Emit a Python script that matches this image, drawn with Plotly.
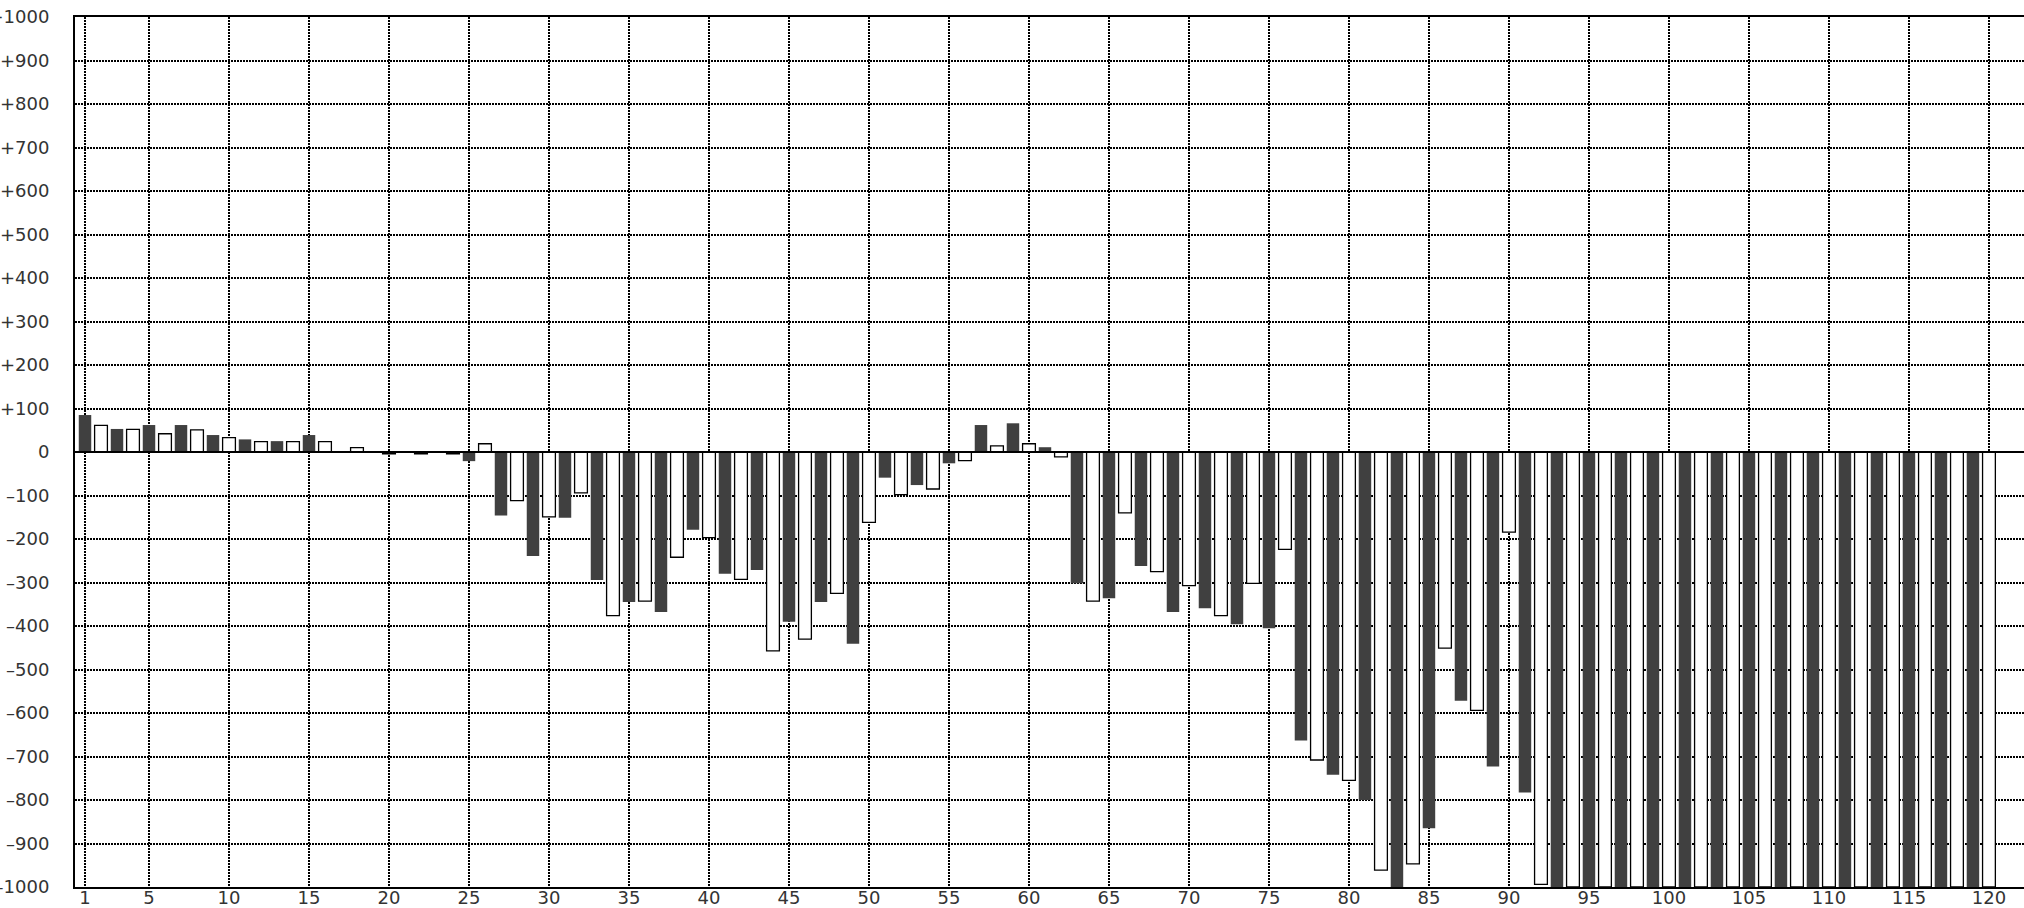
import plotly.graph_objects as go

# Bar index 1..120 and values
positions = list(range(1, 121))
values = [
    85, 61, 53, 52, 62, 42, 62, 51, 39, 33,
    29, 24, 25, 24, 39, 24, 0, 10, 0, -4,
    0, -4, -1, -4, -21, 19, -146, -112, -239, -149,
    -151, -94, -294, -376, -345, -343, -368, -242, -179, -197,
    -280, -293, -271, -457, -390, -430, -345, -325, -441, -162,
    -59, -98, -76, -85, -26, -20, 62, 14, 66, 19,
    11, -11, -302, -343, -336, -140, -262, -275, -368, -307,
    -359, -376, -396, -302, -405, -224, -663, -708, -742, -755,
    -800, -961, -1000, -947, -865, -451, -572, -594, -723, -184,
    -783, -994, -1000, -1000, -1000, -1000, -1000, -1000, -1000, -1000,
    -1000, -1000, -1000, -1000, -1000, -1000, -1000, -1000, -1000, -1000,
    -1000, -1000, -1000, -1000, -1000, -1000, -1000, -1000, -1000, -1000,
]

x_tick_vals = [1] + list(range(5, 121, 5))
x_tick_text = [str(v) for v in x_tick_vals]
y_tick_vals = list(range(-1000, 1001, 100))
y_tick_text = [("+" + str(v)) if v > 0 else ("0" if v == 0 else "\u2013" + str(-v)) for v in y_tick_vals]

odd_x = [p for p in positions if p % 2 == 1]
odd_y = [v for p, v in zip(positions, values) if p % 2 == 1]
even_x = [p for p in positions if p % 2 == 0]
even_y = [v for p, v in zip(positions, values) if p % 2 == 0]

DARK = "#404040"
FONT = dict(family="DejaVu Sans", size=18, color="#333333")

fig = go.Figure()
fig.add_trace(go.Bar(x=odd_x, y=odd_y, width=0.78,
                     marker=dict(color=DARK, line=dict(width=0)),
                     showlegend=False, hoverinfo="x+y"))
fig.add_trace(go.Bar(x=even_x, y=even_y, width=0.8,
                     marker=dict(color="white", line=dict(color="black", width=1.3)),
                     showlegend=False, hoverinfo="x+y"))

fig.update_layout(
    width=2024, height=908,
    margin=dict(l=75, r=0, t=17, b=21, autoexpand=False),
    paper_bgcolor="white", plot_bgcolor="white",
    barmode="overlay",
    font=FONT,
    xaxis=dict(
        range=[0.375, 122.19], tickvals=x_tick_vals, ticktext=x_tick_text,
        showgrid=True, gridcolor="black", gridwidth=1.6, griddash="1.6px,1.4px",
        showline=True, linecolor="black", linewidth=2, mirror=True,
        ticks="", zeroline=False, tickfont=FONT, ticklabelstandoff=-7,
        automargin=False,
    ),
    yaxis=dict(
        range=[-1000, 1000], tickvals=y_tick_vals, ticktext=y_tick_text,
        showgrid=True, gridcolor="black", gridwidth=1.6, griddash="1.6px,1.4px",
        showline=True, linecolor="black", linewidth=2,
        zeroline=False, ticks="", tickfont=FONT, ticklabelstandoff=20,
        automargin=False,
    ),
    shapes=[dict(type="line", xref="paper", yref="y", x0=0, x1=1, y0=0, y1=0,
                 line=dict(color="black", width=2), layer="above")],
)

fig.write_html("out.html", config={"displayModeBar": False},
               post_script="document.body.style.margin='0';document.body.style.overflow='hidden';")
